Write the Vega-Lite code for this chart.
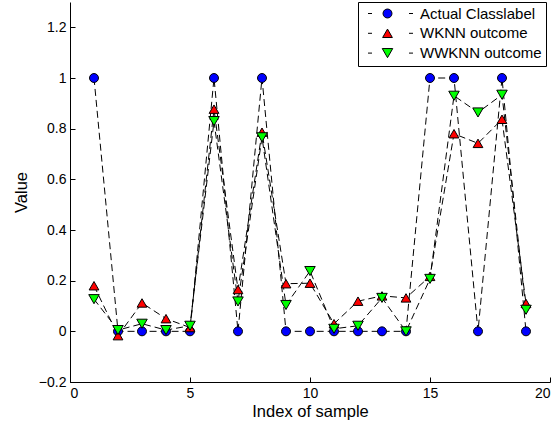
{
  "$schema": "https://vega.github.io/schema/vega-lite/v6.json",
  "width": 480,
  "height": 380,
  "autosize": {"type": "none"},
  "padding": {"left": 70, "top": 2, "right": 9, "bottom": 44},
  "background": "white",
  "config": {
    "view": {"stroke": null},
    "font": "Liberation Sans",
    "axis": {"grid": false, "domainColor": "black", "tickColor": "black", "labelColor": "black", "titleColor": "black", "labelFont": "Liberation Sans", "titleFont": "Liberation Sans", "titleFontWeight": "normal", "domainWidth": 1, "tickWidth": 1}
  },
  "data": {"values": [
    {"i": 1, "series": "Actual Classlabel", "v": 1},
    {"i": 2, "series": "Actual Classlabel", "v": 0},
    {"i": 3, "series": "Actual Classlabel", "v": 0},
    {"i": 4, "series": "Actual Classlabel", "v": 0},
    {"i": 5, "series": "Actual Classlabel", "v": 0},
    {"i": 6, "series": "Actual Classlabel", "v": 1},
    {"i": 7, "series": "Actual Classlabel", "v": 0},
    {"i": 8, "series": "Actual Classlabel", "v": 1},
    {"i": 9, "series": "Actual Classlabel", "v": 0},
    {"i": 10, "series": "Actual Classlabel", "v": 0},
    {"i": 11, "series": "Actual Classlabel", "v": 0},
    {"i": 12, "series": "Actual Classlabel", "v": 0},
    {"i": 13, "series": "Actual Classlabel", "v": 0},
    {"i": 14, "series": "Actual Classlabel", "v": 0},
    {"i": 15, "series": "Actual Classlabel", "v": 1},
    {"i": 16, "series": "Actual Classlabel", "v": 1},
    {"i": 17, "series": "Actual Classlabel", "v": 0},
    {"i": 18, "series": "Actual Classlabel", "v": 1},
    {"i": 19, "series": "Actual Classlabel", "v": 0},
    {"i": 1, "series": "WKNN outcome", "v": 0.18},
    {"i": 2, "series": "WKNN outcome", "v": -0.017},
    {"i": 3, "series": "WKNN outcome", "v": 0.112},
    {"i": 4, "series": "WKNN outcome", "v": 0.05},
    {"i": 5, "series": "WKNN outcome", "v": 0.015},
    {"i": 6, "series": "WKNN outcome", "v": 0.877},
    {"i": 7, "series": "WKNN outcome", "v": 0.165},
    {"i": 8, "series": "WKNN outcome", "v": 0.786},
    {"i": 9, "series": "WKNN outcome", "v": 0.188},
    {"i": 10, "series": "WKNN outcome", "v": 0.19},
    {"i": 11, "series": "WKNN outcome", "v": 0.03},
    {"i": 12, "series": "WKNN outcome", "v": 0.119},
    {"i": 13, "series": "WKNN outcome", "v": 0.14},
    {"i": 14, "series": "WKNN outcome", "v": 0.132},
    {"i": 15, "series": "WKNN outcome", "v": 0.217},
    {"i": 16, "series": "WKNN outcome", "v": 0.78},
    {"i": 17, "series": "WKNN outcome", "v": 0.742},
    {"i": 18, "series": "WKNN outcome", "v": 0.837},
    {"i": 19, "series": "WKNN outcome", "v": 0.11},
    {"i": 1, "series": "WWKNN outcome", "v": 0.127},
    {"i": 2, "series": "WWKNN outcome", "v": 0.005},
    {"i": 3, "series": "WWKNN outcome", "v": 0.03},
    {"i": 4, "series": "WWKNN outcome", "v": 0.005},
    {"i": 5, "series": "WWKNN outcome", "v": 0.022},
    {"i": 6, "series": "WWKNN outcome", "v": 0.83},
    {"i": 7, "series": "WWKNN outcome", "v": 0.118},
    {"i": 8, "series": "WWKNN outcome", "v": 0.766},
    {"i": 9, "series": "WWKNN outcome", "v": 0.104},
    {"i": 10, "series": "WWKNN outcome", "v": 0.238},
    {"i": 11, "series": "WWKNN outcome", "v": 0.01},
    {"i": 12, "series": "WWKNN outcome", "v": 0.022},
    {"i": 13, "series": "WWKNN outcome", "v": 0.132},
    {"i": 14, "series": "WWKNN outcome", "v": 0.0},
    {"i": 15, "series": "WWKNN outcome", "v": 0.207},
    {"i": 16, "series": "WWKNN outcome", "v": 0.93},
    {"i": 17, "series": "WWKNN outcome", "v": 0.864},
    {"i": 18, "series": "WWKNN outcome", "v": 0.934},
    {"i": 19, "series": "WWKNN outcome", "v": 0.085}
  ]},
  "encoding": {
    "x": {"field": "i", "type": "quantitative", "scale": {"domain": [0, 20], "nice": false, "zero": false},
      "axis": {"values": [0, 5, 10, 15, 20], "tickSize": -5, "labelPadding": 9, "labelFontSize": 14, "title": "Index of sample", "titleFontSize": 16.5, "titlePadding": 3}},
    "y": {"field": "v", "type": "quantitative", "scale": {"domain": [-0.2, 1.3], "nice": false, "zero": false},
      "axis": {"values": [-0.2, 0, 0.2, 0.4, 0.6, 0.8, 1, 1.2], "format": "~g", "tickSize": -5, "labelPadding": 9, "labelFontSize": 14, "title": "Value", "titleFontSize": 16.5, "titlePadding": 9}}
  },
  "layer": [
    {
      "mark": {"type": "line", "strokeDash": [7, 4], "strokeWidth": 1},
      "encoding": {
        "order": {"field": "i"},
        "stroke": {"field": "series", "type": "nominal", "scale": {"range": ["black", "black", "black"]},
          "legend": {"orient": "none", "legendX": 309, "legendY": 0, "title": null, "symbolType": "M-9,0H-7.4M7.4,0H9", "symbolSize": 25, "symbolStrokeWidth": 1, "symbolStrokeColor": "black", "labelFontSize": 15, "labelFont": "Liberation Sans", "labelExpr": "' '", "labelOffset": 8, "padding": 4, "rowPadding": 3.8, "labelLimit": 0}}
      }
    },
    {
      "mark": {"type": "point", "filled": true, "stroke": "black", "strokeWidth": 1, "opacity": 1},
      "encoding": {
        "fill": {"field": "series", "type": "nominal", "scale": {"domain": ["Actual Classlabel", "WKNN outcome", "WWKNN outcome"], "range": ["#0000ff", "#ff0000", "#00ff00"]},
          "legend": {"orient": "none", "legendX": 288, "legendY": 0, "title": null, "labelFontSize": 15, "labelFont": "Liberation Sans", "labelColor": "black", "labelOffset": 25, "symbolOffset": 18, "padding": 4, "rowPadding": 3.8, "strokeColor": "black", "symbolStrokeColor": "black", "symbolStrokeWidth": 1, "symbolOpacity": 1, "labelLimit": 0}},
        "shape": {"field": "series", "type": "nominal", "scale": {"domain": ["Actual Classlabel", "WKNN outcome", "WWKNN outcome"], "range": ["circle", "triangle-up", "triangle-down"]}},
        "size": {"field": "series", "type": "nominal", "scale": {"domain": ["Actual Classlabel", "WKNN outcome", "WWKNN outcome"], "range": [80, 110, 110]}}
      }
    }
  ]
}
